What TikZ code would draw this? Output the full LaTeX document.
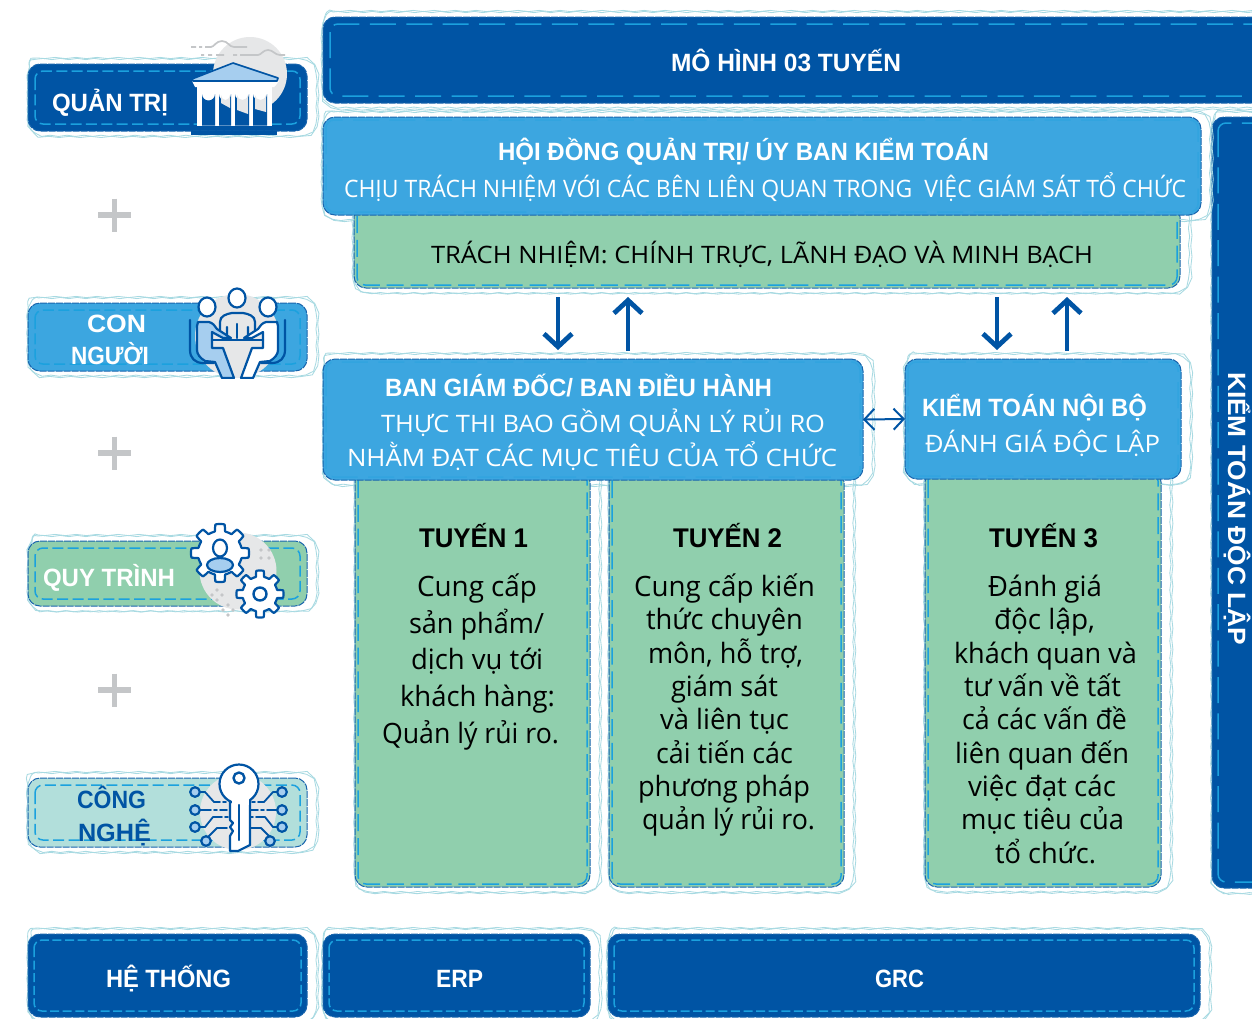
\documentclass[tikz,border=0pt]{standalone}
\usepackage{fontspec}
\usepackage{graphicx}
\usetikzlibrary{arrows.meta,calc,decorations.pathmorphing}
\newfontfamily\bfam[BoldFont={Liberation Sans Bold}]{Liberation Sans}
\newfontfamily\rfam{Open Sans}
\definecolor{cdark}{HTML}{0054A4}
\definecolor{cmid}{HTML}{3CA6E0}
\definecolor{cgreen}{HTML}{90CFAD}
\definecolor{cteal}{HTML}{B2DFDB}
\definecolor{cdash}{HTML}{1BA1DE}
\definecolor{chalo}{HTML}{A8DAE2}
\definecolor{cgrey}{HTML}{E6E7E8}
\definecolor{cplus}{HTML}{C4C6C8}
\definecolor{clight}{HTML}{A6CEEF}
\tikzset{
  halo/.style={draw=chalo,line width=.85pt,decorate,decoration={snake,amplitude=.6pt,segment length=17pt}},
  icon/.style={draw=cdark,line width=2.2pt,line join=round,line cap=round},
  arrowv/.style={draw=cdark,line width=4.8pt,-{Straight Barb[length=13pt,width=28pt,line width=4.8pt]}},
  arrowh/.style={draw=cdark,line width=2pt,{Straight Barb[length=10pt,width=21pt,line width=2pt]}-{Straight Barb[length=10pt,width=21pt,line width=2pt]}},
  txt/.style={anchor=base west,inner sep=0pt,outer sep=0pt},
  plusbar/.style={draw=cplus,line width=5.5pt},
}
% rounded outline x0,y0,x1,y1,r
\newcommand{\rrect}[5]{(#1+#5,#2) -- (#3-#5,#2) .. controls (#3-.45*#5,#2) and (#3,#2+.45*#5) .. (#3,#2+#5) -- (#3,#4-#5) .. controls (#3,#4-.45*#5) and (#3-.45*#5,#4) .. (#3-#5,#4) -- (#1+#5,#4) .. controls (#1+.45*#5,#4) and (#1,#4-.45*#5) .. (#1,#4-#5) -- (#1,#2+#5) .. controls (#1,#2+.45*#5) and (#1+.45*#5,#2) .. (#1+#5,#2) -- cycle}
\newcommand{\halos}[4]{%
  \path[halo] \rrect{#1-5}{#2-5}{#3+5}{#4+5}{15};
  \path[halo,decoration={snake,amplitude=-.6pt,segment length=21pt}] \rrect{#1-6}{#2-6}{#3+6}{#4+6}{16};
}
% name,x0,y0,x1,y1,fill,dash colour,inset,dash length
\newcommand{\panelbody}[9]{%
  \pgfmathsetmacro\pcx{(#2+#4)/2}\pgfmathsetmacro\pcy{(#3+#5)/2}%
  \pgfmathsetmacro\pw{#4-#2}\pgfmathsetmacro\ph{#5-#3}%
  \pgfmathsetmacro\pgap{#9*.4}%
  \node[draw=cdark!90!white,dash pattern=on 7pt off 1pt,line width=1pt,fill=#6,rounded corners=12pt,minimum width=\pw pt,minimum height=\ph pt,inner sep=0pt,outer sep=0pt] (#1) at (\pcx,\pcy) {};
  \draw[#7,line width=1.5pt,rounded corners=8pt,dash pattern=on #9 pt off \pgap pt] (#2+#8,#3+#8) rectangle (#4-#8,#5-#8);
}
\newcommand{\panel}[9]{\halos{#2}{#3}{#4}{#5}\panelbody{#1}{#2}{#3}{#4}{#5}{#6}{#7}{#8}{#9}}
% name,x,baseline,width,font,text
\newcommand{\lab}[6]{%
  \node[txt] (#1) at (#2,#3) {\setbox0=\hbox{#5#6}\pgfmathsetmacro\fr{#4/\the\wd0}\scalebox{\fr}[1]{\box0}};
}
\newcommand{\bftxt}{\bfam\bfseries\fontsize{25}{25}\selectfont}
\newcommand{\bigtxt}{\bfam\bfseries\fontsize{25}{25}\selectfont\color{white}}
\newcommand{\rgtxt}{\rfam\fontsize{24}{24}\selectfont\color{white}}
\newcommand{\rbtxt}{\rfam\fontsize{24}{24}\selectfont\color{black}}
\newcommand{\bodytxt}{\rfam\fontsize{28}{28}\selectfont\color{black}}
\newcommand{\headtxt}{\bfam\bfseries\fontsize{27}{27}\selectfont\color{black}}
\newcommand{\gearshape}[4]{%
  \draw[icon,fill=white] plot[domain=0:360,samples=193,variable=\t]
   ({#1+(#3+#4*min(1,max(0,1.7*cos(8*\t)+.5)))*cos(\t)},{#2+(#3+#4*min(1,max(0,1.7*cos(8*\t)+.5)))*sin(\t)}) -- cycle;
}
\begin{document}
\begin{tikzpicture}[x=1pt,y=-1pt]
\useasboundingbox (0,0) rectangle (1252,1018);
\clip (0,0) rectangle (1252,1018);
\fill[white] (0,0) rectangle (1252,1018);

% Left column
\panel{quantri}{28}{64}{307}{131}{cdark}{cdash}{7}{11}
\panel{connguoi}{28}{303}{307}{371}{cmid}{cdash}{7}{11}
\panel{quytrinh}{28}{541}{307}{606}{cgreen}{cdash}{7}{11}
\panel{congnghe}{28}{778}{307}{847}{cteal}{cdash}{7}{11}

% Plus signs
\foreach \py/\pn in {215/a,453/b,690/c}{
  \coordinate (p\pn l) at (98,\py); \coordinate (p\pn r) at (131,\py);
  \coordinate (p\pn t) at (114.5,\py-16.5); \coordinate (p\pn b) at (114.5,\py+16.5);
  \draw[plusbar] (p\pn l) -- (p\pn r);
  \draw[plusbar] (p\pn t) -- (p\pn b);
}

% Temple icon
\fill[cgrey] (250,74) circle (37);
\fill[cdark] (191,131) rectangle (277,135);
\begin{scope}[draw=cplus,line width=1.7pt]
  \draw (191,47)--(196,47) (199,47)--(202,47) (205,47)--(211,47) .. controls (214,47) and (216,41) .. (222,41) .. controls (228,41) and (229,47) .. (234,47) -- (247,47);
  \draw (201,55)--(204,55) (208,55)--(212,55) (216,55)--(224,55) (233,55)--(237,55) (240,55)--(258,55) .. controls (261,55) and (263,50) .. (268,50) .. controls (273,50) and (275,55) .. (280,55) -- (285,55);
\end{scope}
\fill[white] (197,84) rectangle (272,125.5);
\foreach \ax/\bx in {202/215,219/231,235/249,253/267}{
  \fill[cdark] (\ax,125.5) -- (\ax,94) arc[start angle=180,end angle=0,x radius={(\bx-\ax)/2},y radius=6.5] -- (\bx,125.5) -- cycle;
}
\fill[cgrey] (221,95) arc[start angle=180,end angle=0,x radius=4.5,y radius=5] -- (230,108) -- (221,103) -- cycle;
\fill[cgrey] (237,95) arc[start angle=180,end angle=0,x radius=5.5,y radius=5] -- (248,114) -- (237,110) -- cycle;
\fill[cgrey] (255,95) arc[start angle=180,end angle=0,x radius=5.5,y radius=5] -- (266,112) -- (255,109) -- cycle;
\fill[white] (192,81) -- (279,81) -- (276,85) -- (274,87) -- (195,87) -- cycle;
\draw[icon,fill=clight,line width=1.6pt] (192,79) -- (233,63) -- (278,78) -- (277,81) -- (193,81) -- cycle;

% People icon
\begin{scope}
  \clip (180,280) rectangle (300,378);
  \fill[cgrey] (237,336) circle (42);
  \draw[icon] (190,320) -- (190,350) .. controls (190,358) and (195,363) .. (203,363) -- (214,363);
  \draw[icon] (285,320) -- (285,350) .. controls (285,358) and (280,363) .. (272,363) -- (261,363);
  \draw[icon,fill=cgrey] (220,336) -- (220,322) .. controls (220,316) and (226,314) .. (232,313) -- (243,313) .. controls (249,314) and (255,316) .. (255,322) -- (255,336) -- (248,336) -- (248,327) (227,327) -- (227,336) -- (220,336);
  \draw[icon,fill=clight] (198,322) -- (209,322) .. controls (213,323) and (215,326) .. (217,329) -- (231,338) -- (223,338) -- (212,332) -- (212,348) -- (223,348) -- (234,378) -- (222,378) -- (215,362) -- (205,361) .. controls (200,358) and (197,354) .. (197,350) -- (197,326) -- cycle;
  \draw[icon,fill=white] (277,322) -- (266,322) .. controls (262,323) and (260,326) .. (258,329) -- (244,338) -- (252,338) -- (263,332) -- (263,348) -- (252,348) -- (241,378) -- (253,378) -- (260,362) -- (270,361) .. controls (275,358) and (278,354) .. (278,350) -- (278,326) -- cycle;
  \draw[icon] (212,340) -- (263,340);
  \draw[icon] (237,324) -- (237,338);
\end{scope}
\draw[icon,fill=white] (207,307) ellipse (8.5 and 9.5);
\draw[icon,fill=white] (237,298) ellipse (8.5 and 9.5);
\draw[icon,fill=white] (268,307) ellipse (8.5 and 9.5);

% Gears icon
\fill[cgrey] (238,571) circle (38.5);
\foreach \dx/\dy in {261/550,269/550,261/558,269/558,217/590,222/595,217/600,212/595,228/605,233/610,228/615,223/610}{
  \fill[cplus] (\dx-1.8,\dy) -- (\dx,\dy-1.8) -- (\dx+1.8,\dy) -- (\dx,\dy+1.8) -- cycle;
}
\gearshape{220}{553}{22}{7}
\gearshape{260}{594}{17.5}{6}
\draw[icon,fill=clight] (220,565) ellipse (13 and 7);
\draw[icon,fill=white] (220,548) ellipse (7 and 8.5);
\draw[icon,fill=white,line width=2.4pt] (260,594) circle (6.5);

% Key icon
\fill[cgrey] (238,812) circle (38);
\begin{scope}[icon,line width=1.8pt]
  \draw (199,792) -- (205,792) -- (214,802) -- (220,802) (223,802) -- (226,802);
  \draw (200,810) -- (211,810) (214,810) -- (217,810) (220,810) -- (227,810);
  \draw (199,827) -- (205,827) -- (213,817) -- (222,817) (225,817) -- (228,817);
  \draw (208,837) -- (217,828) -- (227,828);
  \draw (279,792) -- (273,792) -- (264,802) -- (258,802) (255,802) -- (252,802);
  \draw (278,810) -- (267,810) (264,810) -- (261,810) (258,810) -- (251,810);
  \draw (279,827) -- (273,827) -- (265,817) -- (256,817) (253,817) -- (250,817);
  \draw (270,837) -- (261,828) -- (251,828);
\end{scope}
\foreach \kx/\ky in {195/792,195/810,195/827,206/841,282/792,282/810,282/827,270/841}{
  \draw[icon,fill=clight] (\kx,\ky) circle (4.8);
}
\draw[icon,fill=white] (230,798) -- (230,820) -- (233,823) -- (230,827) -- (233,831) -- (230,836) -- (230,851) -- (238,851) -- (250,845) -- (250,798) -- cycle;
\draw[icon,fill=white] (239,784) circle (19.5);
\fill[white] (231.5,798) rectangle (248.5,805);
\draw[icon] (239,805) -- (239,840);
\draw[icon,fill=white,line width=2.4pt] (239,778) circle (5.5);

% Left labels
\lab{tquantri}{52}{111}{116}{\bigtxt}{QUẢN TRỊ}
\lab{tcon}{87}{332}{59}{\bigtxt}{CON}
\lab{tnguoi}{71}{364}{78}{\bigtxt}{NGƯỜI}
\lab{tquy}{43}{586}{132}{\bigtxt}{QUY TRÌNH}
\lab{tcong}{77}{808}{69}{\bftxt\color{cdark}}{CÔNG}
\lab{tnghe}{78}{841}{73}{\bftxt\color{cdark}}{NGHỆ}

% Top and right bars
\panel{mohinh}{323}{17}{1290}{103}{cdark}{cdash}{7}{26}
\lab{tmohinh}{671}{71}{230}{\bigtxt}{MÔ HÌNH 03 TUYẾN}
\panel{doclap}{1212}{117}{1300}{888}{cdark}{cdash}{6}{26}
\node[txt,rotate=-90] (tdoclap) at (1228,372) {\setbox0=\hbox{\bigtxt KIỂM TOÁN ĐỘC LẬP}\pgfmathsetmacro\fr{273/\the\wd0}\scalebox{\fr}[1]{\box0}};

% Halos of the blue heads lie under the green bodies
\halos{323}{117}{1201}{215}
\halos{323}{359}{863}{480}
\halos{905}{359}{1181}{479}

% Green bodies
\panel{trachnhiem}{354}{205}{1180}{288}{cgreen}{cdash}{3}{17}
\panel{tuyen1}{355}{470}{590}{887}{cgreen}{cdash}{3}{17}
\panel{tuyen2}{609}{470}{844}{887}{cgreen}{cdash}{3}{17}
\panel{tuyen3}{925}{470}{1161}{887}{cgreen}{cdash}{3}{17}

% Blue heads
\panelbody{hdqt}{323}{117}{1201}{215}{cmid}{cmid!70!cdash}{3}{26}
\panelbody{bgd}{323}{359}{863}{480}{cmid}{cmid!70!cdash}{3}{26}
\panelbody{ktnb}{905}{359}{1181}{479}{cmid}{cmid!70!cdash}{3}{26}

\lab{thd}{498}{160}{491}{\bigtxt}{HỘI ĐỒNG QUẢN TRỊ/ ÚY BAN KIỂM TOÁN}
\lab{thd2}{344}{197}{842}{\rgtxt}{CHỊU TRÁCH NHIỆM VỚI CÁC BÊN LIÊN QUAN TRONG\ \ VIỆC GIÁM SÁT TỔ CHỨC}
\lab{ttn}{431}{263}{662}{\rbtxt}{TRÁCH NHIỆM: CHÍNH TRỰC, LÃNH ĐẠO VÀ MINH BẠCH}
\lab{tbgd}{385}{396}{387}{\bigtxt}{BAN GIÁM ĐỐC/ BAN ĐIỀU HÀNH}
\lab{tbgd2}{381}{432}{444}{\rgtxt}{THỰC THI BAO GỒM QUẢN LÝ RỦI RO}
\lab{tbgd3}{347}{466}{490}{\rgtxt}{NHẰM ĐẠT CÁC MỤC TIÊU CỦA TỔ CHỨC}
\lab{tkt}{922}{416}{225}{\bigtxt}{KIỂM TOÁN NỘI BỘ}
\lab{tkt2}{925}{452}{235}{\rgtxt}{ĐÁNH GIÁ ĐỘC LẬP}

% Line labels
\lab{ha}{419}{547}{109}{\headtxt}{TUYẾN 1}
\lab{hb}{673}{547}{109}{\headtxt}{TUYẾN 2}
\lab{hc}{989}{547}{109}{\headtxt}{TUYẾN 3}

\lab{a1}{417}{596}{120}{\bodytxt}{Cung cấp}
\lab{a2}{409}{633}{135}{\bodytxt}{sản phẩm/}
\lab{a3}{411}{669}{132}{\bodytxt}{dịch vụ tới}
\lab{a4}{400}{706}{155}{\bodytxt}{khách hàng:}
\lab{a5}{382}{743}{177}{\bodytxt}{Quản lý rủi ro.}

\lab{b1}{634}{596}{181}{\bodytxt}{Cung cấp kiến}
\lab{b2}{646}{629}{157}{\bodytxt}{thức chuyên}
\lab{b3}{648}{663}{155}{\bodytxt}{môn, hỗ trợ,}
\lab{b4}{671}{696}{107}{\bodytxt}{giám sát}
\lab{b5}{660}{729}{129}{\bodytxt}{và liên tục}
\lab{b6}{656}{763}{137}{\bodytxt}{cải tiến các}
\lab{b7}{638}{796}{172}{\bodytxt}{phương pháp}
\lab{b8}{642}{829}{173}{\bodytxt}{quản lý rủi ro.}

\lab{c1}{988}{596}{114}{\bodytxt}{Đánh giá}
\lab{c2}{994}{629}{101}{\bodytxt}{độc lập,}
\lab{c3}{954}{663}{183}{\bodytxt}{khách quan và}
\lab{c4}{964}{696}{157}{\bodytxt}{tư vấn về tất}
\lab{c5}{962}{729}{165}{\bodytxt}{cả các vấn đề}
\lab{c6}{955}{763}{174}{\bodytxt}{liên quan đến}
\lab{c7}{968}{796}{148}{\bodytxt}{việc đạt các}
\lab{c8}{961}{829}{163}{\bodytxt}{mục tiêu của}
\lab{c9}{995}{863}{101}{\bodytxt}{tổ chức.}

% Bottom row
\panel{hethong}{28}{934}{307}{1017}{cdark}{cdash}{6}{9}
\panel{erp}{323}{934}{590}{1017}{cdark}{cdash}{6}{9}
\panel{grc}{608}{934}{1200}{1017}{cdark}{cdash}{6}{9}
\lab{the}{106}{987}{125}{\bigtxt}{HỆ THỐNG}
\lab{terp}{436}{987}{47}{\bigtxt}{ERP}
\lab{tgrc}{875}{987}{49}{\bigtxt}{GRC}

% Arrows
\coordinate (d1s) at (558,297); \coordinate (d1e) at (558,350);
\coordinate (u1s) at (628,351); \coordinate (u1e) at (628,297);
\coordinate (d2s) at (997,297); \coordinate (d2e) at (997,350);
\coordinate (u2s) at (1067,351); \coordinate (u2e) at (1067,297);
\draw[arrowv] (d1s) -- (d1e);
\draw[arrowv] (u1s) -- (u1e);
\draw[arrowv] (d2s) -- (d2e);
\draw[arrowv] (u2s) -- (u2e);
\draw[arrowh] (bgd.east) -- (ktnb.west);
\end{tikzpicture}
\end{document}
